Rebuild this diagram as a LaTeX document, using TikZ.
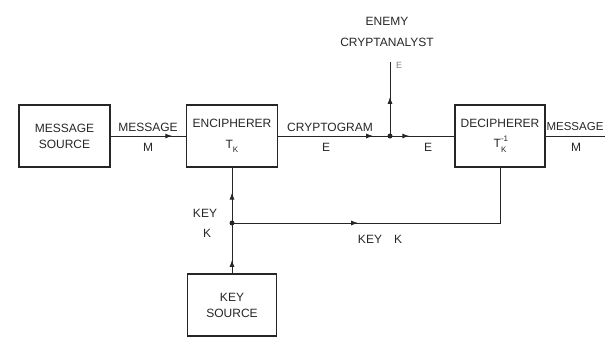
\documentclass[tikz,border=0pt]{standalone}
\usepackage{fontspec}
\setmainfont{Liberation Sans}
\usetikzlibrary{arrows.meta,decorations.markings}

\newcommand\Tkey[1]{T\rlap{\raisebox{6.5pt}{\footnotesize #1}}\raisebox{-4.5pt}{\footnotesize K}}

\tikzset{
    blok/.style={draw, line width=1.1pt, minimum width=91pt, minimum height=62pt,
        align=center, inner sep=0pt, font=\fontsize{12}{15}\selectfont},
    linija/.style={line width=1pt},
    midarrow/.style={postaction={decorate},
        decoration={markings, mark=at position #1 with {\arrow{Latex[length=7pt,width=5pt]}}}},
    metka/.style={inner sep=0pt, font=\fontsize{12}{14}\selectfont},
    tochka/.style={circle, fill, inner sep=0pt, minimum size=5pt}
}

\begin{document}
\begin{tikzpicture}[x=1pt, y=-1pt, >=stealth, color=black!85]
    \useasboundingbox (0,0) rectangle (605,338);

    % Блоки
    \node[blok] (msgsrc) at (64.5,136) {MESSAGE\\[1pt]SOURCE};
    \node[blok] (enc) at (232,136) {ENCIPHERER\\[6pt]\Tkey{}};
    \node[blok, minimum width=90pt] (dec) at (500,136) {DECIPHERER\\[5pt]\Tkey{-1}};
    \node[blok, minimum width=89pt] (keysrc) at (232,305) {KEY\\[1pt]SOURCE};

    % Узлы
    \coordinate (tap) at (390,136);
    \coordinate (enemy) at (390,62);
    \coordinate (keytap) at (232,223);
    \coordinate (out) at (605,136);

    % Линии
    \draw[linija, midarrow=0.82] (msgsrc) -- (enc);
    \draw[linija, midarrow=0.85] (enc) -- (tap);
    \draw[linija, midarrow=0.3] (tap) -- (dec);
    \draw[linija, midarrow=0.53] (tap) -- (enemy);
    \draw[linija] (dec) -- (out);
    \draw[linija, midarrow=0.27] (keysrc) -- (keytap);
    \draw[linija, midarrow=0.55] (keytap) -- (enc);
    \draw[linija, midarrow=0.39] (keytap) -| (dec);
    \fill (tap) circle (2.5);
    \fill (keytap) circle (2.5);

    % Подписи
    \node[metka] (lmsg) at (148,127) {MESSAGE};
    \node[metka] (lm) at (148,147) {M};
    \node[metka] (lcrypt) at (330,127) {CRYPTOGRAM};
    \node[metka] (le) at (326,147) {E};
    \node[metka] (le2) at (428,147) {E};
    \node[metka, font=\fontsize{11.5}{14}\selectfont] (lmsg2) at (575,127) {MESSAGE};
    \node[metka] (lm2) at (576,147) {M};
    \node[metka] (lenemy) at (387,21) {ENEMY};
    \node[metka] (lcrypta) at (387,42) {CRYPTANALYST};
    \node[metka, font=\fontsize{9}{10}\selectfont, black!50] (le3) at (399,65) {E};
    \node[metka] (lkey) at (205,213) {KEY};
    \node[metka] (lk) at (207,233) {K};
    \node[metka] (lkeyk) at (380,239) {KEY\quad K};

\end{tikzpicture}
\end{document}
